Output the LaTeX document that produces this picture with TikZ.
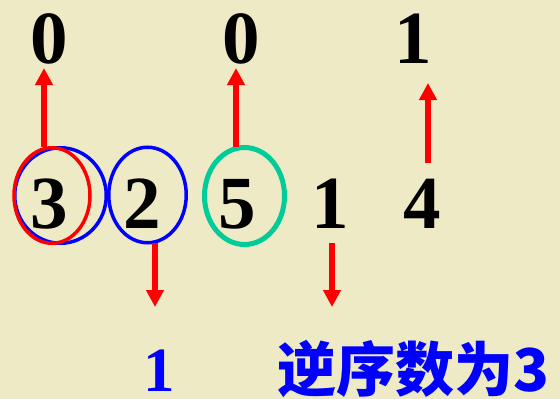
\documentclass[tikz,border=0pt]{standalone}
\usepackage{fontspec}
\setmainfont{Liberation Serif}
\newfontfamily\cjk{Noto Sans CJK SC}
\usetikzlibrary{arrows.meta,shapes.geometric}
\definecolor{bgbeige}{RGB}{238,234,198}
\definecolor{ringgreen}{RGB}{0,204,153}
\tikzset{
  digit/.style={anchor=base, inner sep=0pt, font=\fontsize{75}{75}\selectfont\bfseries},
  bluetext/.style={anchor=base, inner sep=0pt, text depth=0pt, text=blue},
  ring/.style={ellipse, draw, line width=3.5pt, inner sep=0pt},
  redarrow/.style={draw=red, line width=6pt, -{Triangle[width=17pt,length=17pt]}, red}
}
\begin{document}
\begin{tikzpicture}[x=1pt,y=-1pt]
\fill[bgbeige] (0,0) rectangle (560,399);
\useasboundingbox (0,0) rectangle (560,399);
% top row
\node[digit] (t1) at (49,63) {0};
\node[digit] (t2) at (241,63) {0};
\node[digit] (t3) at (413.5,63) {1};
% middle row
\node[digit] (m1) at (49,228) {3};
\node[digit] (m2) at (142,228) {2};
\node[digit] (m3) at (237,228) {5};
\node[digit] (m4) at (330,228) {1};
\node[digit] (m5) at (422,228) {4};
% rings
\node[ring, draw=blue, minimum width=91.5pt, minimum height=95.5pt] (b3) at (60.5,195.5) {};
\node[ring, draw=red, minimum width=76pt, minimum height=95.5pt] (r3) at (52,195.5) {};
\node[ring, draw=blue, minimum width=77.5pt, minimum height=95.5pt] (b2) at (147.5,195) {};
\node[ring, draw=ringgreen, line width=5pt, minimum width=80pt, minimum height=97pt] (g5) at (244.5,196) {};
% bottom row
\node[bluetext, font=\fontsize{63}{63}\selectfont\bfseries] (d1) at (159,391) {1};
\node[bluetext, anchor=base west, font=\fontsize{59}{59}\selectfont\cjk\bfseries] (res) at (277,391) {逆序数为3};
% arrow coordinates
\coordinate (u1s) at (44,147); \coordinate (u1e) at (44,68);
\coordinate (u2s) at (236,147); \coordinate (u2e) at (236,68);
\coordinate (u3s) at (428,163); \coordinate (u3e) at (428,83);
\coordinate (d1s) at (155,243); \coordinate (d1e) at (155,307);
\coordinate (d2s) at (332,243); \coordinate (d2e) at (332,307);
\draw[redarrow] (u1s) -- (u1e);
\draw[redarrow] (u2s) -- (u2e);
\draw[redarrow] (u3s) -- (u3e);
\draw[redarrow] (d1s) -- (d1e);
\draw[redarrow] (d2s) -- (d2e);
\end{tikzpicture}
\end{document}
